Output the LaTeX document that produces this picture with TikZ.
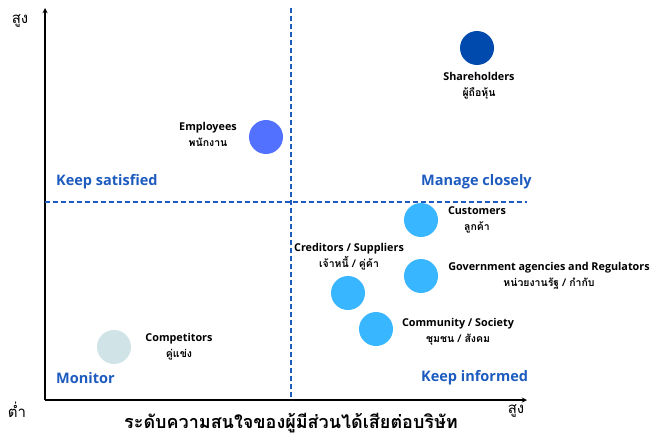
\documentclass[tikz,border=0pt]{standalone}
\usepackage{fontspec}
\setmainfont{Open Sans}
\newfontfamily\thaifont[Script=Thai]{Loma}
\usetikzlibrary{positioning}

\definecolor{darkblue}{HTML}{004AAD}
\definecolor{midblue}{HTML}{5271FF}
\definecolor{skyblue}{HTML}{38B6FF}
\definecolor{paleblue}{HTML}{D0E3E6}
\definecolor{lineblue}{HTML}{1D5BBF}

\newcommand{\thline}[1]{{\thaifont\fontsize{10.5}{16}\selectfont #1}}

\tikzset{
  dot/.style={circle, minimum size=34pt, inner sep=0pt},
  tag/.style={align=center, inner sep=0pt,
    font=\fontsize{10.8}{16}\selectfont\bfseries},
  quad/.style={inner sep=0pt, text=lineblue,
    font=\fontsize{14.5}{17}\selectfont\bfseries},
  split/.style={draw=lineblue, dashed, dash pattern=on 5pt off 3pt, line width=1.2pt},
  axis/.style={draw=black, line width=1.3pt, ->, >=stealth},
}

\begin{document}
\begin{tikzpicture}[x=1pt, y=-1pt]

\useasboundingbox (0,0) rectangle (653,439);

% axes
\coordinate (o) at (45,400);
\coordinate (ytip) at (45,8);
\coordinate (xtip) at (527,400);
\draw[axis] (o) -- (ytip);
\draw[axis] (o) -- (xtip);

% quadrant split
\coordinate (vtop) at (291,8);
\coordinate (vbot) at (291,400);
\coordinate (hl) at (45,202);
\coordinate (hr) at (527,202);
\draw[split] (vtop) -- (vbot);
\draw[split] (hl) -- (hr);

% axis texts
\node[font=\thaifont\fontsize{15}{18}\selectfont] (yhi) at (20,21) {สูง};
\node[font=\thaifont\fontsize{15}{18}\selectfont] (xlo) at (17,410) {ต่ำ};
\node[font=\thaifont\fontsize{15}{18}\selectfont] (xhi) at (516,411) {สูง};
\node[font=\thaifont\bfseries\fontsize{18}{20}\selectfont] (xname) at (291,423)
  {ระดับความสนใจของผู้มีส่วนได้เสียต่อบริษัท};

% quadrant names
\node[quad, anchor=west] (ks) at (56,182) {Keep satisfied};
\node[quad, anchor=west] (mc) at (421,182) {Manage closely};
\node[quad, anchor=west] (mo) at (56,378) {Monitor};
\node[quad, anchor=west] (ki) at (421,378) {Keep informed};

% stakeholders
\node[dot, fill=darkblue] (sh) at (477,48) {};
\node[dot, fill=midblue] (em) at (266,137) {};
\node[dot, fill=skyblue] (cu) at (421,220) {};
\node[dot, fill=skyblue] (go) at (421,276) {};
\node[dot, fill=skyblue] (cr) at (348,293) {};
\node[dot, fill=skyblue] (cs) at (376,329) {};
\node[dot, fill=paleblue] (cp) at (114,347) {};

\node[tag] (shtag) at (479,86) {Shareholders\\\thline{ผู้ถือหุ้น}};
\node[tag] (emtag) at (208,134) {Employees\\\thline{พนักงาน}};
\node[tag] (cutag) at (477,220) {Customers\\\thline{ลูกค้า}};
\node[tag] (gotag) at (549,276) {Government agencies and Regulators\\\thline{หน่วยงานรัฐ / กำกับ}};
\node[tag] (crtag) at (349,257) {Creditors / Suppliers\\\thline{เจ้าหนี้ / คู่ค้า}};
\node[tag] (cstag) at (458,332) {Community / Society\\\thline{ชุมชน / สังคม}};
\node[tag] (cptag) at (179,347) {Competitors\\\thline{คู่แข่ง}};

\end{tikzpicture}
\end{document}
